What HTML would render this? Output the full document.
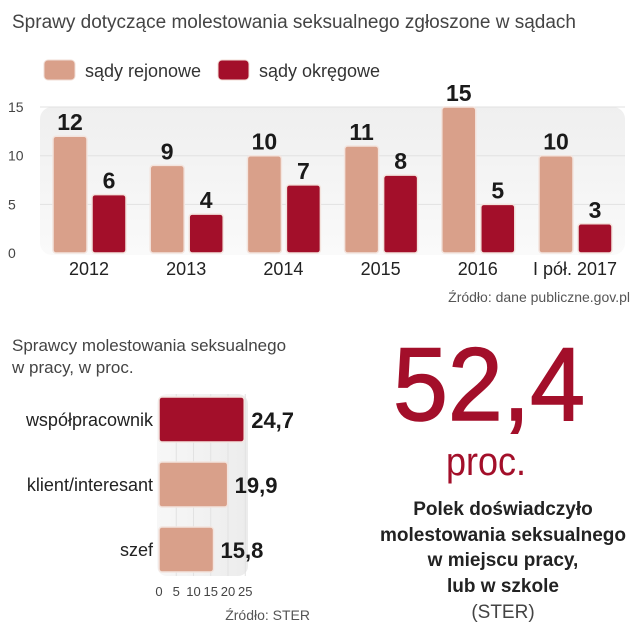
<!DOCTYPE html>
<html><head><meta charset="utf-8"><style>
body{margin:0;background:#fff;}
svg{display:block;font-family:"Liberation Sans",sans-serif;}
</style></head><body>
<svg width="640" height="640" viewBox="0 0 640 640">
<defs>
<linearGradient id="pg" x1="0" y1="0" x2="0" y2="1"><stop offset="0" stop-color="#efefef"/><stop offset="1" stop-color="#fafafa"/></linearGradient>
<linearGradient id="pg2" x1="0" y1="0" x2="1" y2="0"><stop offset="0" stop-color="#f7f7f7"/><stop offset="1" stop-color="#ececec"/></linearGradient>
</defs>
<text x="12" y="28" font-size="19" fill="#444">Sprawy dotyczące molestowania seksualnego zgłoszone w sądach</text>
<g>
<rect x="44" y="60" width="31" height="20" rx="4" fill="#d9a08a" stroke="#f0ddd5"/>
<text x="85" y="77" font-size="18" fill="#333">sądy rejonowe</text>
<rect x="218" y="60" width="31" height="20" rx="4" fill="#a30f2a" stroke="#f0ddd5"/>
<text x="259" y="77" font-size="18" fill="#333">sądy okręgowe</text>
</g>
<rect x="40" y="107" width="585" height="148" rx="12" fill="url(#pg)"/>
<g id="topchart"></g>
<text x="630" y="302" font-size="14" fill="#555" text-anchor="end">Źródło: dane publiczne.gov.pl</text>

<text x="12" y="351" font-size="17" fill="#444">Sprawcy molestowania seksualnego</text>
<text x="12" y="373" font-size="17" fill="#444">w pracy, w proc.</text>
<rect x="157" y="394" width="91" height="182" rx="10" fill="url(#pg2)"/>
<g id="botchart"></g>
<text x="310" y="620" font-size="14" fill="#555" text-anchor="end">Źródło: STER</text>

<text x="489" y="420" font-size="104" fill="#a30f2a" text-anchor="middle" textLength="192" lengthAdjust="spacingAndGlyphs" stroke="#a30f2a" stroke-width="1.5">52,4</text>
<text x="486" y="475" font-size="40" fill="#a30f2a" text-anchor="middle" textLength="80" lengthAdjust="spacingAndGlyphs">proc.</text>
<g font-size="19" font-weight="bold" fill="#222" text-anchor="middle">
<text x="503" y="515">Polek doświadczyło</text>
<text x="503" y="541">molestowania seksualnego</text>
<text x="503" y="566">w miejscu pracy,</text>
<text x="503" y="592">lub w szkole</text>
</g>
<text x="503" y="618" font-size="19" fill="#444" text-anchor="middle">(STER)</text>
</svg>
<script>
const years=["2012","2013","2014","2015","2016","I pół. 2017"];
const rejonowe=[12,9,10,11,15,10];
const okregowe=[6,4,7,8,5,3];
const yTicks=[0,5,10,15];
const cats2=["współpracownik","klient/interesant","szef"];
const vals2=[24.7,19.9,15.8];
const xTicks2=[0,5,10,15,20,25];
const NS="http://www.w3.org/2000/svg";
function mk(p,t,a,txt){const e=document.createElementNS(NS,t);for(const k in a)e.setAttribute(k,a[k]);if(txt!=null)e.textContent=txt;p.appendChild(e);return e;}
const topG=document.getElementById('topchart');
const yS=v=>253-v*9.73;
const gx=i=>53+i*97.2;
yTicks.forEach(t=>{
 if(t>0){const l=mk(topG,'line',{x1:40,x2:625,y1:yS(t),y2:yS(t),stroke:'#e2e2e2'});
 
 }
 const tx=mk(topG,'text',{x:8,y:yS(t)+5,'font-size':14,fill:'#444'},t);
 
 
});
years.forEach((yr,i)=>{
 const x=gx(i);
 [[rejonowe[i],x,'#d9a08a','rejonowe'],[okregowe[i],x+39,'#a30f2a','okregowe']].forEach(([v,bx,c,n])=>{
  const r=mk(topG,'rect',{x:bx,y:yS(v),width:34,height:253-yS(v),rx:3,fill:c,stroke:'#f3e4de','stroke-width':1.5});
  
  
  const t=mk(topG,'text',{x:bx+17,y:yS(v)-6,'font-size':23,'font-weight':'bold',fill:'#1a1a1a','text-anchor':'middle'},v);
  
  
 });
 const l=mk(topG,'text',{x:x+36,y:275,'font-size':18,fill:'#222','text-anchor':'middle'},yr);
 
 
});
const botG=document.getElementById('botchart');
const x2=v=>159+v*3.45;
xTicks2.forEach(t=>{
 if(t>0){const l=mk(botG,'line',{x1:x2(t),x2:x2(t),y1:394,y2:576,stroke:'#e2e2e2'});
 
 }
 const tx=mk(botG,'text',{x:x2(t),y:596,'font-size':13,fill:'#444','text-anchor':'middle'},t);
 
 
});
cats2.forEach((c,i)=>{
 const by=397+i*65;
 const r=mk(botG,'rect',{x:159,y:by,width:x2(vals2[i])-159,height:45,rx:3,fill:i==0?'#a30f2a':'#d9a08a',stroke:'#f3e4de','stroke-width':1.5});
 
 
 const l=mk(botG,'text',{x:153,y:by+29,'font-size':18,fill:'#222','text-anchor':'end'},c);
 
 
 const v=mk(botG,'text',{x:x2(vals2[i])+7,y:by+31,'font-size':22,'font-weight':'bold',fill:'#1a1a1a'},String(vals2[i]).replace('.',','));
 
 
});
</script>
</body></html>
